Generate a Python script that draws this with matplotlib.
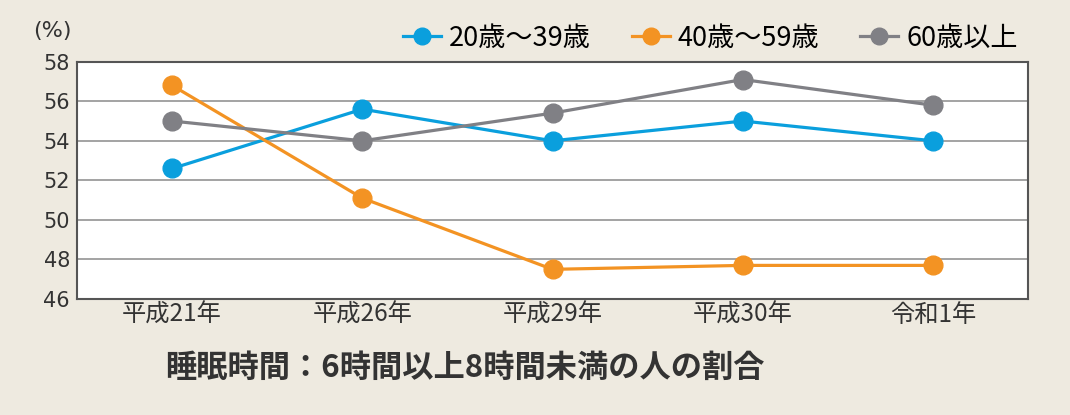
"""
睡眠時間グラフ
"""

import matplotlib
matplotlib.use('Agg')
import matplotlib.pyplot as plt
from matplotlib.lines import Line2D

plt.rcParams['font.family'] = ['Noto Sans CJK JP', 'DejaVu Sans']

# データ
years = ['平成21年', '平成26年', '平成29年', '平成30年', '令和1年']
age_20_39 = [52.6, 55.6, 54.0, 55.0, 54.0]
age_40_59 = [56.8, 51.1, 47.5, 47.7, 47.7]
age_60_up = [55.0, 54.0, 55.4, 57.1, 55.8]
labels = ['20歳～39歳', '40歳～59歳', '60歳以上']
colors = ['#0A9FDD', '#F39323', '#808085']
y_ticks = [46, 48, 50, 52, 54, 56, 58]

bg = '#EEEAE0'
fig = plt.figure(figsize=(10.7, 4.15), dpi=100, facecolor=bg)
ax = fig.add_axes([0.072, 0.2795, 0.8888, 0.5718])
ax.set_facecolor('white')

x = range(len(years))
handles = []
for vals, c, lab in zip([age_20_39, age_40_59, age_60_up], colors, labels):
    ax.plot(x, vals, color=c, linewidth=2.3, marker='o', markersize=13.5, zorder=3)
    handles.append(Line2D([], [], color=c, linewidth=2.3, marker='o', markersize=12, label=lab))

ax.set_xlim(-0.5, len(years) - 0.5)
ax.set_ylim(46, 58)
ax.set_yticks(y_ticks)
ax.set_yticklabels([str(v) for v in y_ticks], fontsize=15, color='#333333', family='DejaVu Sans')
ax.set_xticks(list(x))
ax.set_xticklabels(years, fontsize=17.5, color='#333333')
ax.tick_params(length=0)
ax.tick_params(axis='x', pad=2)
ax.tick_params(axis='y', pad=5)
ax.grid(axis='y', color='#9C9C9C', linewidth=1.3)
ax.set_axisbelow(True)
for s in ax.spines.values():
    s.set_color('#555555')
    s.set_linewidth(1.5)

fig.text(0.049, 0.925, '(%)', fontsize=16, color='#333333', ha='center', va='center', family='DejaVu Sans')

fig.legend(handles=handles, loc='center', bbox_to_anchor=(0.664, 0.908), ncol=3, frameon=False,
           fontsize=19.5, handlelength=1.4, handletextpad=0.3, columnspacing=1.5)

fig.text(0.434, 0.113, '睡眠時間：6時間以上8時間未満の人の割合', fontsize=22.5, fontweight='bold',
         color='#333333', ha='center', va='center')

fig.savefig('out.png', dpi=100, facecolor=bg)
